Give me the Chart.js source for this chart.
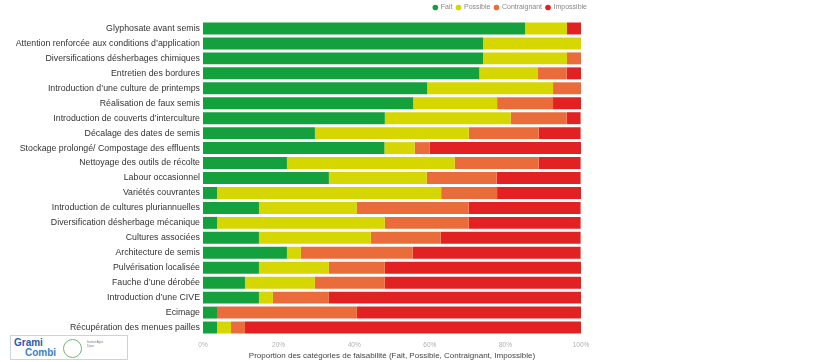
<!DOCTYPE html>
<html>
<head>
<meta charset="utf-8">
<script src="https://cdn.jsdelivr.net/npm/chart.js@4/dist/chart.umd.min.js"></script>
<style>
  html, body { margin: 0; padding: 0; background: #fff; }
  #wrap { position: relative; width: 820px; height: 362px; }
  #logo {
    position: absolute; left: 10px; top: 335px; width: 118px; height: 25px;
    border: 1px solid #c8d4e0; box-sizing: border-box; background: #fff;
    font-family: "Liberation Sans", sans-serif; font-weight: bold; color: #2a5ba8;
  }
  #logo .g { position: absolute; left: 3px; top: 1px; font-size: 10px; }
  #logo .c { position: absolute; left: 14px; top: 11px; font-size: 10px; color: #3a7fc8; }
  #logo .o { position: absolute; left: 52px; top: 3px; width: 17px; height: 17px; border: 1px solid #7bb07f; border-radius: 50%; }
  #logo .t { position: absolute; left: 76px; top: 4px; font-size: 3px; color: #777; font-weight: normal; }
</style>
</head>
<body>
<div id="wrap">
  <canvas id="myChart" width="820" height="362"></canvas>
  <div id="logo"><span class="g">Grami</span><span class="c">Combi</span><span class="o"></span><span class="t">Institut Agro<br>Dijon</span></div>
</div>
<script>
const categories = [
    'Glyphosate avant semis',
    'Attention renforcée aux conditions d\u2019application',
    'Diversifications désherbages chimiques',
    'Entretien des bordures',
    'Introduction d\u2019une culture de printemps',
    'Réalisation de faux semis',
    'Introduction de couverts d\u2019interculture',
    'Décalage des dates de semis',
    'Stockage prolongé/ Compostage des effluents',
    'Nettoyage des outils de récolte',
    'Labour occasionnel',
    'Variétés couvrantes',
    'Introduction de cultures pluriannuelles',
    'Diversification désherbage mécanique',
    'Cultures associées',
    'Architecture de semis',
    'Pulvérisation localisée',
    'Fauche d\u2019une dérobée',
    'Introduction d\u2019une CIVE',
    'Ecimage',
    'Récupération des menues pailles'
];

// proportions en %
const fait         = [85.2, 74.1, 74.1, 73.1, 59.3, 55.6, 48.1, 29.6, 48.0, 22.2, 33.3, 3.7, 14.8, 3.7, 14.8, 22.2, 14.8, 11.1, 14.8, 3.7, 3.7];
const possible     = [11.1, 25.9, 22.2, 15.4, 33.3, 22.2, 33.3, 40.7, 8.0, 44.4, 25.9, 59.3, 25.9, 44.4, 29.6, 3.7, 18.5, 18.5, 3.7, 0, 3.7];
const contraignant = [0, 0, 3.7, 7.7, 7.4, 14.8, 14.8, 18.5, 4.0, 22.2, 18.5, 14.8, 29.6, 22.2, 18.5, 29.6, 14.8, 18.5, 14.8, 37.0, 3.7];
const impossible   = [3.7, 0, 0, 3.8, 0, 7.4, 3.7, 11.1, 40.0, 11.1, 22.2, 22.2, 29.6, 29.6, 37.0, 44.4, 51.9, 51.9, 66.7, 59.3, 88.9];

const xTicks = [0, 20, 40, 60, 80, 100];

const ctx = document.getElementById('myChart').getContext('2d');

function serie(label, data, color) {
    return {
        label: label,
        data: data,
        backgroundColor: color,
        borderWidth: 0,
        barPercentage: 1,
        categoryPercentage: 0.8
    };
}

new Chart(ctx, {
    type: 'bar',
    data: {
        labels: categories,
        datasets: [
            serie('Fait', fait, '#14a03c'),
            serie('Possible', possible, '#d6d600'),
            serie('Contraignant', contraignant, '#ea6c3a'),
            serie('Impossible', impossible, '#e22222')
        ]
    },
    options: {
        responsive: false,
        animation: false,
        indexAxis: 'y',
        layout: { padding: { left: 0, right: 229, top: 0, bottom: 0 } },
        scales: {
            x: {
                stacked: true,
                min: 0,
                max: 100,
                afterBuildTicks: function (scale) {
                    scale.ticks = xTicks.map(v => ({ value: v }));
                },
                afterFit: function (scale) { scale.height = 27; },
                grid: { display: false, drawTicks: false },
                border: { display: false },
                ticks: {
                    color: '#b0b0b0',
                    font: { family: 'Liberation Sans', size: 6.5 },
                    padding: 6,
                    callback: v => v + '%'
                },
                title: {
                    display: true,
                    text: 'Proportion des catégories de faisabilité (Fait, Possible, Contraignant, Impossible)',
                    color: '#444',
                    font: { family: 'Liberation Sans', size: 8 },
                    padding: { top: 0, bottom: 1 }
                }
            },
            y: {
                stacked: true,
                grid: { display: false, drawTicks: false },
                border: { display: false },
                afterFit: function (scale) { scale.width = 203; },
                ticks: {
                    color: '#333',
                    font: { family: 'Liberation Sans', size: 8.8 },
                    padding: 3,
                    autoSkip: false
                }
            },
            // marge à droite du graphique (légende plus à droite que les barres)
            y2: {
                type: 'category',
                position: 'right',
                grid: { display: false, drawTicks: false },
                border: { display: false },
                ticks: { display: false },
                afterFit: function (scale) { scale.width = 10; }
            }
        },
        plugins: {
            legend: {
                position: 'top',
                align: 'end',
                labels: {
                    usePointStyle: true,
                    pointStyle: 'circle',
                    boxWidth: 4,
                    boxHeight: 4,
                    padding: 4,
                    color: '#888',
                    font: { family: 'Liberation Sans', size: 7 }
                }
            },
            tooltip: { enabled: false }
        }
    }
});
</script>
</body>
</html>
